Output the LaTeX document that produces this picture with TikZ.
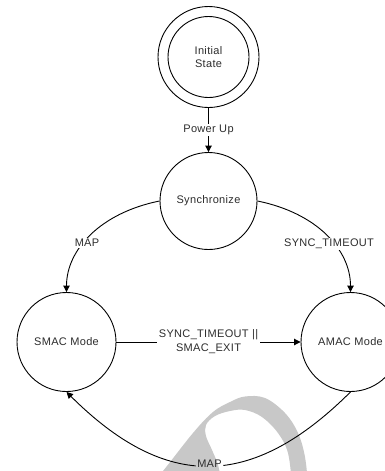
\documentclass[tikz,border=0pt]{standalone}
\usepackage{fontspec}
\setmainfont{Liberation Sans}[LetterSpace=3]
\usetikzlibrary{arrows.meta}

\definecolor{txt}{RGB}{45,45,45}
\definecolor{wmgrey}{RGB}{200,200,200}
\newcommand\lblfont{\fontsize{11}{13.5}\selectfont}

\tikzset{
  state/.style={circle, draw=black, line width=0.9pt, inner sep=0pt,
                font=\lblfont, text=txt, align=center},
  edgelbl/.style={fill=white, inner sep=1.5pt, font=\lblfont, text=txt, align=center},
  conn/.style={draw=black, line width=0.9pt, -{Triangle[length=6.5pt,width=6.5pt]}},
}

\begin{document}
\begin{tikzpicture}[x=1pt, y=-1pt]
  \useasboundingbox (0,0) rectangle (385,471);
  \clip (0,0) rectangle (385,471);
  \fill[white] (0,0) rectangle (385,471);

  % light grey letterform in the background
  \fill[wmgrey]
    plot[smooth, tension=0.6] coordinates {(150,485) (163,471) (193,433) (213,412) (230,402) (245,396.5) (265,398) (285,413) (298,433) (305,457) (308,485)}
    -- (292,485)
    -- plot[smooth, tension=0.6] coordinates {(292,485) (288,453) (278,433) (262,417) (245,410) (230,411) (215,416) (206,425) (206,436) (212,450) (218,465) (222,485)}
    -- cycle;

  % states
  \node[state, minimum size=101pt] (init) at (208.5,57) {};
  \node[state, minimum size=81pt] (initin) at (init.center) {Initial\\State};
  \node[state, minimum size=97pt] (sync) at (208.5,201) {Synchronize};
  \node[state, minimum size=99pt] (smac) at (66.5,342) {SMAC Mode};
  \node[state, minimum size=99pt] (amac) at (350.5,342) {AMAC Mode};

  % transitions
  \draw[conn] (init) -- (sync);
  \node[edgelbl] (lpow) at (208.5,130) {Power Up};

  \draw[conn] (sync.west) .. controls (100,213) and (66.5,250) .. (smac.north);
  \node[edgelbl] (lmap) at (87,243) {MAP};

  \draw[conn] (sync.east) .. controls (317,213) and (350.5,250) .. (amac.north);
  \node[edgelbl] (lto) at (329,244) {SYNC\_TIMEOUT};

  \draw[conn] (smac) -- (amac);
  \node[edgelbl] (lexit) at (208.5,341.5) {SYNC\_TIMEOUT ||\\SMAC\_EXIT};

  % return path, broken around its label so the background shows through
  \node[font=\lblfont, text=txt, inner sep=1.5pt] (lback) at (209.5,464) {MAP};
  \begin{scope}[even odd rule]
    \clip (0,0) rectangle (385,471)
      (lback.south west) rectangle (lback.north east);
    \draw[conn] (amac.south) .. controls (251.5,490.5) and (165.5,490.5) .. (smac.south);
  \end{scope}
\end{tikzpicture}
\end{document}
